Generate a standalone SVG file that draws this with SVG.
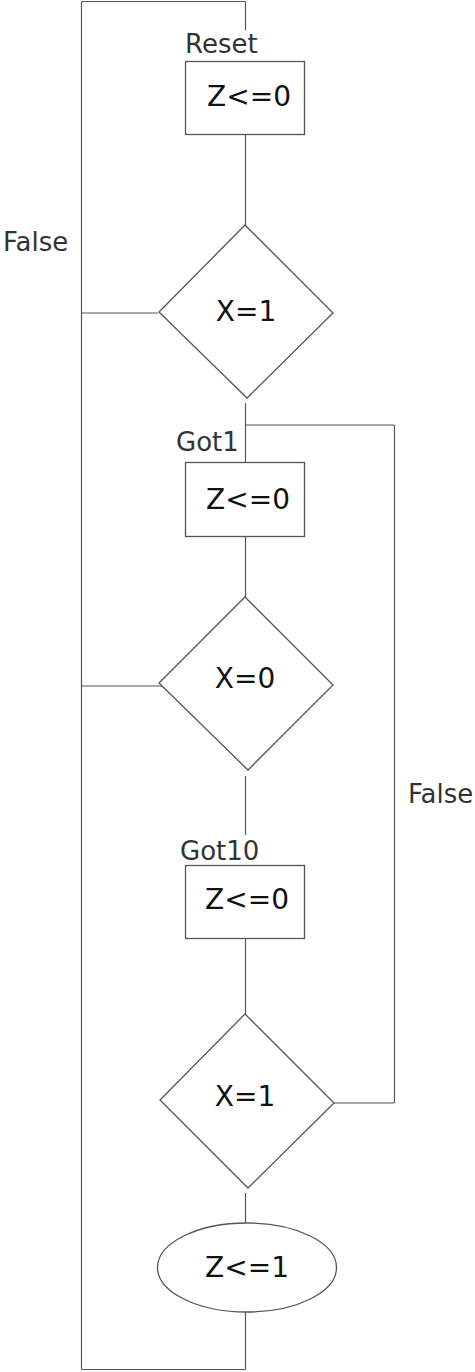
<svg xmlns="http://www.w3.org/2000/svg" width="475" height="1372" viewBox="0 0 475 1372">
<style>
.shape{fill:#fff;stroke:#555;stroke-width:1.3}
.conn line{stroke:#555;stroke-width:1.2}
.t{font-family:"DejaVu Sans",sans-serif;font-size:28px;fill:#111;text-anchor:middle}
.lbl{font-family:"DejaVu Sans",sans-serif;font-size:26px;fill:#333}
</style>
<rect width="475" height="1372" fill="#fff"/>
<g id="connectors" class="conn">
<line x1="81.5" y1="1.5" x2="81.5" y2="1369.5"/>
<line x1="81.5" y1="1.5" x2="245.5" y2="1.5"/>
<line x1="245.5" y1="1.5" x2="245.5" y2="30"/>
<line x1="245.5" y1="135" x2="245.5" y2="225"/>
<line x1="81.5" y1="313" x2="158" y2="313"/>
<line x1="245.5" y1="403" x2="245.5" y2="462"/>
<line x1="245.5" y1="425" x2="394.5" y2="425"/>
<line x1="394.5" y1="425" x2="394.5" y2="1103"/>
<line x1="245.5" y1="537" x2="245.5" y2="597"/>
<line x1="81.5" y1="686" x2="171" y2="686"/>
<line x1="245.5" y1="776" x2="245.5" y2="835"/>
<line x1="245.5" y1="939" x2="245.5" y2="1014"/>
<line x1="334" y1="1103" x2="394.5" y2="1103"/>
<line x1="245.5" y1="1193" x2="245.5" y2="1223"/>
<line x1="245.5" y1="1312" x2="245.5" y2="1369.5"/>
<line x1="81.5" y1="1369.5" x2="245.5" y2="1369.5"/>
</g>
<g id="label-false-left"><text class="lbl" x="3" y="251">False</text></g>
<g id="label-false-right"><text class="lbl" x="408" y="803">False</text></g>
<g id="reset">
<text class="lbl" x="185" y="53">Reset</text>
<rect class="shape" x="185.5" y="61.5" width="119" height="73"/>
<text class="t" x="249" y="106">Z&lt;=0</text>
</g>
<g id="dec1">
<polygon class="shape" points="245,225 333,313 247,398 159,312"/>
<text class="t" x="246" y="321">X=1</text>
</g>
<g id="got1">
<text class="lbl" x="176" y="451">Got1</text>
<rect class="shape" x="185.5" y="462.5" width="119" height="74"/>
<text class="t" x="248" y="509">Z&lt;=0</text>
</g>
<g id="dec2">
<polygon class="shape" points="245,597 333,685 248,770 159,683"/>
<text class="t" x="245" y="688">X=0</text>
</g>
<g id="got10">
<text class="lbl" x="180" y="860">Got10</text>
<rect class="shape" x="185.5" y="865.5" width="119" height="73"/>
<text class="t" x="247" y="909">Z&lt;=0</text>
</g>
<g id="dec3">
<polygon class="shape" points="245,1014 334,1103 248,1188 160,1100"/>
<text class="t" x="245" y="1106">X=1</text>
</g>
<g id="final">
<ellipse class="shape" cx="247" cy="1267.5" rx="89.5" ry="44.5"/>
<text class="t" x="247" y="1277">Z&lt;=1</text>
</g>
</svg>
